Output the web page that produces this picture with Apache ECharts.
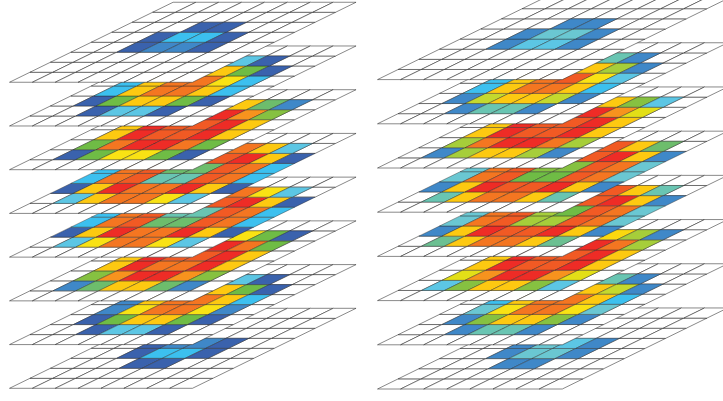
<!DOCTYPE html>
<html><head><meta charset="utf-8">
<style>html,body{margin:0;padding:0;background:#fff}#c{width:723px;height:401px}</style>
<script src="https://cdn.jsdelivr.net/npm/echarts@6/dist/echarts.min.js"></script>
</head><body><div id="c"></div>
<script>
// Colour level of each value (low = blue, high = red)
const levelColors = {0:'#3a62ad',1:'#3f88c8',2:'#3cc0ef',3:'#5cc6e4',3.5:'#6ac7d2',4:'#69c5b2',4.5:'#6cc092',5:'#6dbd6c',6:'#6fbc45',7:'#86c141',7.5:'#a6ce3a',8:'#c4d92e',8.5:'#e3df17',9:'#f9e214',9.5:'#fbd80f',10:'#fdc911',11:'#f7931e',12:'#f47621',13:'#f15a24',14:'#ee2c26'};

// Each layer: [row, first column, levels...] ; top layer first
const left1 = [[3,2,[0,1,1,0]],[4,2,[0,2,2,0]],[5,3,[0,0]]];
const left2 = [[1,2,[0,3,3,0]],[2,1,[0,6,10,10,6,0]],[3,1,[2,10,12,12,10,2]],[4,1,[2,10,12,12,9,2]],[5,4,[10,6,0]],[6,4,[3,0]]];
const left3 = [[1,1,[0,6,9,9,6,0]],[2,1,[6,12,14,14,12,6]],[3,1,[10,14,13,13,14,10]],[4,1,[10,14,13,13,14,10]],[5,4,[14,11,7]],[6,4,[10,5,1]]];
const left4 = [[1,1,[3,10,12,12,9,3]],[2,0,[0,10,14,12,12,14,10,0]],[3,0,[2,12,13,4,4,13,12,2]],[4,0,[2,12,13,5,5,13,12,2]],[5,4,[13,14,10,0]],[6,4,[12,10,3]]];
const left5 = [[1,1,[3,9,12,12,9,3]],[2,0,[0,10,14,12,12,14,10,0]],[3,0,[2,12,13,5,5,13,12,2]],[4,0,[2,12,13,4,4,13,12,2]],[5,4,[13,14,10,0]],[6,4,[12,9,3]]];
const left6 = [[1,1,[1,5,10,10,5,1]],[2,1,[7,11,14,14,11,7]],[3,1,[10,14,12,12,14,10]],[4,1,[10,14,13,13,14,10]],[5,4,[14,12,6]],[6,4,[9,6,0]]];
const left7 = [[1,2,[0,3,3,0]],[2,1,[0,6,10,10,6,0]],[3,1,[1,9,12,12,9,1]],[4,1,[1,10,12,12,10,2]],[5,4,[10,6,0]],[6,4,[3,0]]];
const left8 = [[2,3,[0,0]],[3,2,[0,2,2,0]],[4,2,[0,1,1,0]]];

const right1 = [[3,2,[1,3,3,1]],[4,2,[1,3.5,3.5,1]],[5,3,[1,1]]];
const right2 = [[1,2,[1,4,4,1]],[2,1,[1,8,10,10,8,1]],[3,1,[2,10,12,12,10,2]],[4,1,[2,10,12,13,9,3]],[5,4,[10,7.5,1]],[6,4,[4,1]]];
const right3 = [[1,1,[1,7.5,10,10,7.5,1]],[2,1,[7.5,12,14,14,12,7.5]],[3,1,[10,14,13,13,14,10]],[4,1,[10,14,13,13,14,10]],[5,4,[14,11,8.5]],[6,4,[10,7,3]]];
const right4 = [[1,1,[4,10,12,12,10,4]],[2,0,[1,10,14,13,13,14,10,1]],[3,0,[3.5,12,13,6,6,13,12,3.5]],[4,0,[3.5,12,13,7,7,13,12,3.5]],[5,4,[13,14,10,1]],[6,4,[13,10,5]]];
const right5 = [[1,1,[4.5,10,12,12,10,4.5]],[2,0,[1,10,14,13,13,14,10,1]],[3,0,[3.5,12,13,7.5,7.5,13,12,3.5]],[4,0,[3.5,12,13,7.5,6,13,12,3.5]],[5,4,[13,14,10,1]],[6,4,[13,10,4]]];
const right6 = [[1,1,[3,7,10,10,7,3]],[2,1,[8.5,11,14,14,11,8.5]],[3,1,[10,14,13,13,14,10]],[4,1,[10,14,13,13,14,10]],[5,4,[14,12,7.5]],[6,4,[9.5,7.5,1]]];
const right7 = [[1,2,[1,4,4,1]],[2,1,[1,7,10,10,7,1]],[3,1,[3.5,9,12,12,9,3.5]],[4,1,[2,10,12,12,10,2]],[5,4,[10,8,1]],[6,4,[4,1]]];
const right8 = [[2,3,[1,1]],[3,2,[1,3.5,3.5,1]],[4,2,[1,3.5,3,1]]];

const leftStack = [left1,left2,left3,left4,left5,left6,left7,left8];
const rightStack = [right1,right2,right3,right4,right5,right6,right7,right8];

const GRID_SIZE = 8;
const stacks = [
  {layers:leftStack,  shear:20.45/22.87, gap:43.72/10,    left:9.5,   bottomPx:388.3, colPx:22.87, rowPx:10},
  {layers:rightStack, shear:20.67/23.1,  gap:44.2/10.13,  left:377.5, bottomPx:389,   colPx:23.1,  rowPx:10.13}
];

function cellsOf(layer, position){
  const lookup = {};
  layer.forEach(([r,c0,levels])=>levels.forEach((v,i)=>{lookup[r+'_'+(c0+i)] = v;}));
  const out = [];
  for(let r=0;r<GRID_SIZE;r++)for(let c=0;c<GRID_SIZE;c++){
    const k=r+'_'+c;
    out.push([position,r,c,k in lookup?lookup[k]:-1]);
  }
  // coloured cells go last so that their outlines stay on top
  return out.sort((a,b)=>(a[3]>=0)-(b[3]>=0));
}

const grids=[],xAxes=[],yAxes=[],series=[];
stacks.forEach((s,si)=>{
  const w = 723 - s.left;
  grids.push({left:s.left,top:0,width:w,height:s.bottomPx});
  xAxes.push({type:'value',gridIndex:si,min:0,max:w/s.colPx,show:false});
  yAxes.push({type:'value',gridIndex:si,min:0,max:s.bottomPx/s.rowPx,show:false});
  const n = s.layers.length;
  // bottom layer first: every layer covers the one below it
  for(let i=n-1;i>=0;i--){
    series.push({
      type:'custom',coordinateSystem:'cartesian2d',xAxisIndex:si,yAxisIndex:si,
      clip:false,silent:true,animation:false,z:2+(n-i),
      data:cellsOf(s.layers[i],n-1-i),
      encode:{x:2,y:1},
      renderItem:function(params,api){
        const p=api.value(0),r=api.value(1),c=api.value(2),v=api.value(3);
        const pt=(cc,rr)=>api.coord([cc+rr*s.shear,p*s.gap+rr]);
        return {type:'polygon',
          shape:{points:[pt(c,r),pt(c+1,r),pt(c+1,r+1),pt(c,r+1)]},
          style:{fill:v>=0?levelColors[v]:'#ffffff',stroke:'#262626',lineWidth:v>=0?0.42:0.55}};
      }
    });
  }
});

const chart=echarts.init(document.getElementById('c'),null,{renderer:'canvas'});
chart.setOption({animation:false,backgroundColor:'#ffffff',tooltip:{show:false},legend:{show:false},
  grid:grids,xAxis:xAxes,yAxis:yAxes,series:series});
</script></body></html>
